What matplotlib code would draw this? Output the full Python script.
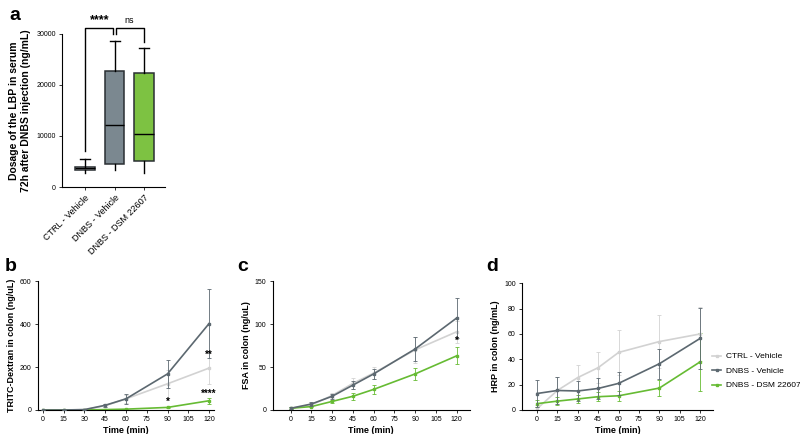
import numpy as np
import matplotlib
matplotlib.use('Agg')
from matplotlib import pyplot as plt
from matplotlib.lines import Line2D

# panel a - box stats
box_groups = ['CTRL - Vehicle', 'DNBS - Vehicle', 'DNBS - DSM 22607']
box_whislo = [2700, 3400, 2700]
box_q1 = [3300, 4600, 5100]
box_med = [3700, 12100, 10300]
box_q3 = [4000, 22700, 22300]
box_whishi = [5500, 28600, 27300]

# panels b-d
time_min = [0, 15, 30, 45, 60, 90, 120]
series_names = ['CTRL - Vehicle', 'DNBS - Vehicle', 'DNBS - DSM 22607']

tritc_mean = [[0, 0, 1, 20, 52, 122, 195],
              [0, 0, 2, 22, 52, 168, 402],
              [0, 0, 0, 2, 4, 12, 43]]
tritc_err = [[0, 0, 1, 8, 20, 65, 75],
             [0, 0, 1, 6, 22, 65, 160],
             [0, 0, 0, 1, 2, 4, 14]]

fsa_mean = [[2, 6, 17, 31, 43, 70, 91],
            [2, 7, 16, 29, 42, 71, 107],
            [2, 4, 10, 16, 24, 42, 63]]
fsa_err = [[1, 2, 3, 6, 7, 15, 13],
           [1, 2, 3, 5, 6, 14, 23],
           [1, 1, 2, 4, 5, 7, 10]]

hrp_mean = [[1, 15.4, 25.6, 33.4, 45.4, 54, 60],
            [13, 15.4, 15, 17, 21, 36.5, 56.5],
            [5, 7, 8.7, 10.5, 11.2, 17.3, 38]]
hrp_err = [[3, 11, 10, 12, 18, 21, 21.5],
           [10.5, 11, 8, 8, 9, 12, 24],
           [3, 3, 3, 3.5, 4, 6, 23]]

colors = ['#d2d2d2', '#5c6870', '#66bb33']
box_fill = ['#e8e8e8', '#7b8890', '#7dc242']

plt.rcParams['font.family'] = ['Liberation Sans', 'DejaVu Sans']
plt.rcParams['axes.linewidth'] = 0.8
plt.rcParams['xtick.major.width'] = 0.7
plt.rcParams['ytick.major.width'] = 0.7
plt.rcParams['xtick.major.size'] = 2.5
plt.rcParams['ytick.major.size'] = 2.5

fig = plt.figure(figsize=(8, 4.34), dpi=100)


def style_ax(ax):
    ax.spines['top'].set_visible(False)
    ax.spines['right'].set_visible(False)
    ax.tick_params(labelsize=5, pad=2, color='#333333')


# ---- panel a ----
ax_a = fig.add_axes([0.0775, 0.569, 0.129, 0.353])
stats = []
for i in range(3):
    stats.append({'whislo': box_whislo[i], 'q1': box_q1[i], 'med': box_med[i],
                  'q3': box_q3[i], 'whishi': box_whishi[i], 'fliers': []})
bp = ax_a.bxp(stats, positions=[1, 2, 3], widths=0.66, patch_artist=True,
              showfliers=False,
              medianprops=dict(color='black', lw=1),
              whiskerprops=dict(color='black', lw=1),
              capprops=dict(color='black', lw=1))
for i, patch in enumerate(bp['boxes']):
    patch.set_facecolor(box_fill[i])
    patch.set_edgecolor('#2a2f33')
    patch.set_linewidth(1.1)
for i in range(3):
    bp['caps'][2 * i].set_visible(False)
ax_a.set_xlim(0.22, 3.71)
ax_a.set_ylim(0, 30000)
ax_a.set_yticks([0, 10000, 20000, 30000])
ax_a.set_xticks([1, 2, 3])
ax_a.set_xticklabels(box_groups, rotation=45, ha='right', rotation_mode='anchor')
style_ax(ax_a)
ax_a.tick_params(axis='x', labelsize=6.5)
ax_a.set_ylabel('Dosage of the LBP in serum\n72h after DNBS injection (ng/mL)',
                fontsize=7.5, fontweight='bold', labelpad=4)
# significance brackets
ax_a.plot([1, 1, 1.95, 1.95], [7000, 31200, 31200, 30000], color='black', lw=1, clip_on=False)
ax_a.text(1.5, 31500, '****', ha='center', va='bottom', fontsize=9, fontweight='bold')
ax_a.plot([2.05, 2.05, 3, 3], [30000, 31200, 31200, 28500], color='black', lw=1, clip_on=False)
ax_a.text(2.5, 31800, 'ns', ha='center', va='bottom', fontsize=6.5)
fig.text(0.012, 0.955, 'a', fontsize=14, fontweight='bold')


def time_panel(rect, xlim, means, errs, ylim, yticks, ylabel):
    ax = fig.add_axes(rect)
    for i in range(3):
        ax.errorbar(time_min, means[i], yerr=errs[i], color=colors[i], lw=1.2,
                    marker='s', ms=2, elinewidth=0.6, capsize=1.5, capthick=0.6,
                    zorder=2 + (i == 1))
    ax.set_xlim(xlim)
    ax.set_ylim(ylim)
    ax.set_yticks(yticks)
    ax.set_xticks(np.arange(0, 121, 15))
    style_ax(ax)
    ax.set_xlabel('Time (min)', fontsize=6.5, fontweight='bold', labelpad=2)
    ax.set_ylabel(ylabel, fontsize=6.5, fontweight='bold', labelpad=3)
    return ax


ax_b = time_panel([0.0475, 0.0553, 0.22, 0.297], (-3.6, 123.6), tritc_mean, tritc_err,
                  (0, 600), [0, 200, 400, 600], 'TRITC-Dextran in colon (ng/uL)')
ax_b.text(90, 22, '*', ha='center', fontsize=7, fontweight='bold')
ax_b.text(120, 60, '****', ha='center', fontsize=7, fontweight='bold')
ax_b.text(120, 245, '**', ha='center', fontsize=7, fontweight='bold')
fig.text(0.006, 0.375, 'b', fontsize=14, fontweight='bold')

ax_c = time_panel([0.341, 0.0553, 0.246, 0.297], (-13, 129.4), fsa_mean, fsa_err,
                  (0, 150), [0, 50, 100, 150], 'FSA in colon (ng/uL)')
ax_c.text(120, 77, '*', ha='center', fontsize=7, fontweight='bold')
fig.text(0.296, 0.375, 'c', fontsize=14, fontweight='bold')

ax_d = time_panel([0.6525, 0.0553, 0.239, 0.292], (-11, 129.6), hrp_mean, hrp_err,
                  (0, 100), [0, 20, 40, 60, 80, 100], 'HRP in colon (ng/mL)')
fig.text(0.608, 0.375, 'd', fontsize=14, fontweight='bold')

handles = [Line2D([], [], color=colors[i], lw=1.2, marker='s', ms=2) for i in range(3)]
fig.legend(handles, series_names, loc='center left', bbox_to_anchor=(0.89, 0.145),
           frameon=False, fontsize=6.0, handlelength=1.1, handletextpad=0.6,
           labelspacing=0.8, borderaxespad=0, borderpad=0)

plt.savefig('out.png', dpi=100)
plt.close()
